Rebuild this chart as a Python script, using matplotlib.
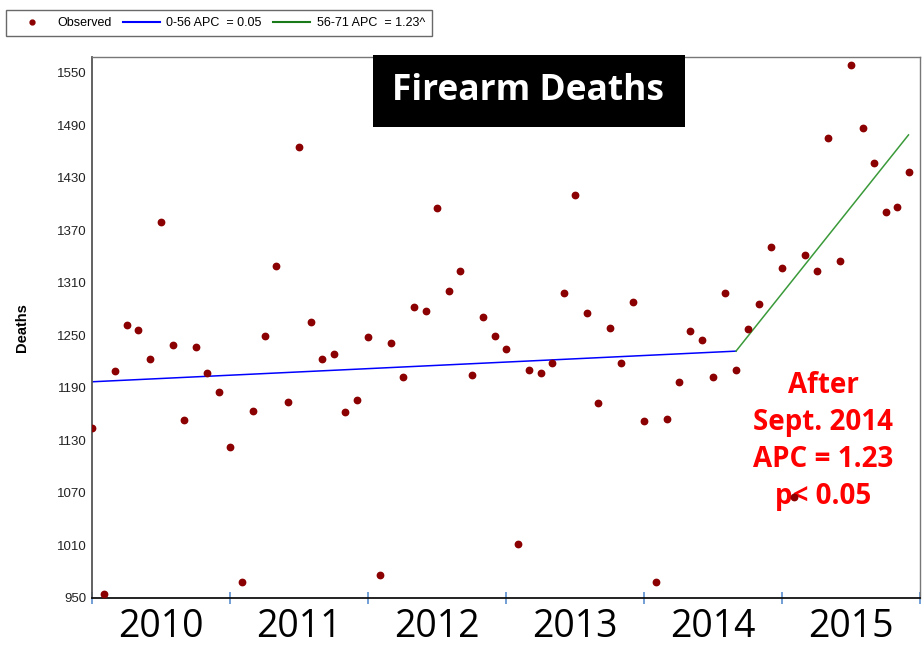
import numpy as np
import matplotlib
matplotlib.use("Agg")
import matplotlib.pyplot as plt
from matplotlib.lines import Line2D
from matplotlib.patches import Rectangle

# ──────────────────────────────
# Data (monthly, Jan 2010 .. Dec 2015)
# ──────────────────────────────
deaths = [
    1144, 954, 1209, 1262, 1256, 1223, 1379, 1239, 1153, 1237, 1207, 1185,
    1122, 968, 1164, 1249, 1329, 1174, 1465, 1265, 1223, 1229, 1163, 1176,
    1248, 976, 1241, 1203, 1282, 1278, 1396, 1301, 1324, 1205, 1271, 1249,
    1234, 1012, 1210, 1207, 1219, 1298, 1410, 1276, 1173, 1258, 1218, 1288,
    1152, 968, 1155, 1197, 1255, 1245, 1203, 1298, 1211, 1257, 1286, 1351,
    1327, 1065, 1342, 1323, 1476, 1335, 1559, 1487, 1447, 1391, 1397, 1437,
]
months = np.arange(len(deaths))

seg1_x = [0, 56]
seg1_y = [1197, 1232]
seg2_x = [56, 71]
seg2_y = [1232, 1479]

years = ["2010", "2011", "2012", "2013", "2014", "2015"]
y_ticks = [950, 1010, 1070, 1130, 1190, 1250, 1310, 1370, 1430, 1490, 1550]

legend_labels = ["Observed", "0-56 APC  = 0.05", "56-71 APC  = 1.23^"]

W, H = 922, 649

# ──────────────────────────────
# Figure
# ──────────────────────────────
plt.rcParams["font.family"] = ["Liberation Sans", "DejaVu Sans"]

fig = plt.figure(figsize=(W / 100, H / 100), dpi=100)
ax = fig.add_axes([92 / W, 51 / H, 828 / W, 541 / H])

ax.plot(months, deaths, "o", color="#8b0000", ms=4.6, mec="#8b0000", zorder=3)
ax.plot(seg1_x, seg1_y, color="#0000ff", lw=1.1, zorder=2)
ax.plot(seg2_x, seg2_y, color="#3a9a3a", lw=1.1, zorder=2)

ax.set_xlim(0, 72)
ax.set_ylim(950, 1568)

ax.set_yticks(y_ticks)
ax.set_yticklabels([str(v) for v in y_ticks], fontsize=9.5, color="#222222")
ax.tick_params(axis="y", length=0, pad=4)

ax.set_xticks(np.arange(0, 73, 12))
ax.set_xticklabels([])
ax.tick_params(axis="x", length=9, width=1.2, color="#5b8fd0", direction="inout")

for i, yr in enumerate(years):
    ax.text(12 * i + 6, -0.018, yr, transform=ax.get_xaxis_transform(),
            ha="center", va="top", fontsize=27, family=["Open Sans", "DejaVu Sans"])

ax.set_ylabel("Deaths", fontsize=10.5, fontweight="bold", labelpad=20)

for side in ["top", "right"]:
    ax.spines[side].set_color("#777777")
    ax.spines[side].set_linewidth(1.0)
ax.spines["left"].set_color("#555555")
ax.spines["left"].set_linewidth(1.3)
ax.spines["bottom"].set_color("#111111")
ax.spines["bottom"].set_linewidth(1.3)

# title box
fig.patches.append(Rectangle((373 / W, 1 - 127 / H), 312 / W, 72 / H,
                             transform=fig.transFigure, fc="black", ec="none",
                             zorder=5))
fig.text(528 / W, 1 - 91 / H, "Firearm Deaths", ha="center", va="center",
         fontsize=25.5, fontweight="bold", color="white", zorder=6,
         family=["Open Sans", "DejaVu Sans"])

# annotation (drawn under the points, as in the original)
ax.text(823 / W, 1 - 441 / H, "After\nSept. 2014\nAPC = 1.23\np< 0.05",
        transform=fig.transFigure, ha="center", va="center", zorder=1,
        fontsize=20, fontweight="bold", color="#ff0000", linespacing=1.37,
        family=["Open Sans", "DejaVu Sans"])

handles = [
    Line2D([], [], ls="", marker="o", ms=3.5, color="#8b0000"),
    Line2D([], [], color="#0000ff", lw=1.5),
    Line2D([], [], color="#1a7a1a", lw=1.5),
]
leg = fig.legend(handles, legend_labels, loc="upper left", ncol=3,
                 bbox_to_anchor=(0.0, 1 - 4 / H), fontsize=9, frameon=True,
                 fancybox=False, edgecolor="#444444", handlelength=3,
                 columnspacing=0.9, borderpad=0.55, handletextpad=0.5)
leg.get_frame().set_linewidth(1.0)

fig.savefig("out.png", dpi=100)
